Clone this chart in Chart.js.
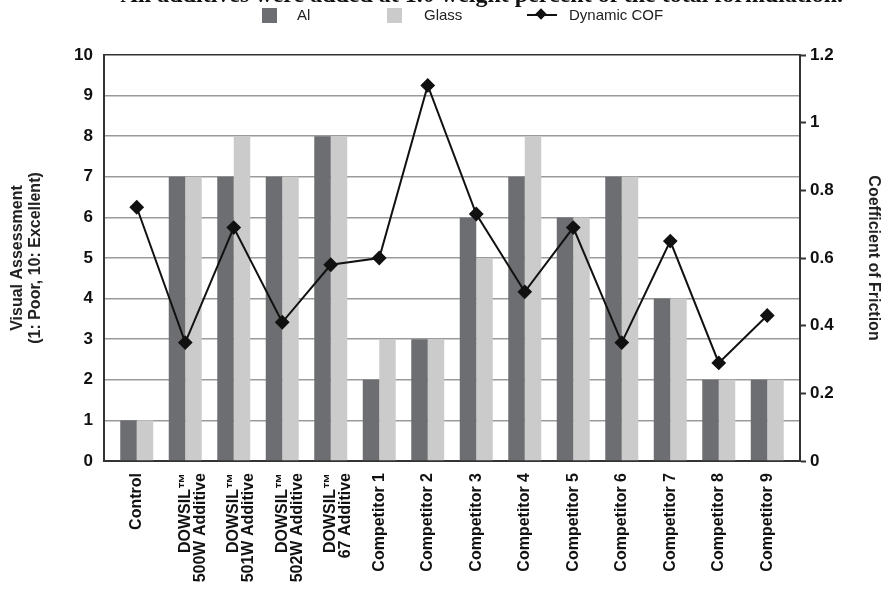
<!DOCTYPE html>
<html>
<head>
<meta charset="utf-8">
<script src="https://cdn.jsdelivr.net/npm/chart.js@4.4.1/dist/chart.umd.min.js"></script>
<style>
  html, body { margin: 0; padding: 0; background: #fff; overflow: hidden; }
  #wrap { position: relative; width: 883px; height: 597px; overflow: hidden; }
  #cut { position: absolute; right: 40px; top: -19px; white-space: nowrap;
         font: bold 24px "Liberation Serif", "DejaVu Serif", serif; color: #111; }
  #legend { position: absolute; top: 5px; left: 0; width: 883px; height: 20px;
            font: 15px "Liberation Sans Narrow", "Liberation Sans", Arial, sans-serif; color: #222; }
  #legend span { position: absolute; top: 0; line-height: 20px; }
  .sw { width: 15px; height: 15px; top: 3px !important; }
</style>
</head>
<body>
<div id="wrap">
  <div id="cut">All additives were added at 1.0 weight percent of the total formulation.</div>
  <div id="legend">
    <span class="sw" style="left:262px;background:#6d6e71"></span><span style="left:297px">Al</span>
    <span class="sw" style="left:387px;background:#cbcbcb"></span><span style="left:424px">Glass</span>
    <span style="left:527px;top:9px;width:30px;height:2px;background:#111"></span>
    <span style="left:537px;top:5px;width:8px;height:8px;background:#111;transform:rotate(45deg)"></span>
    <span style="left:569px">Dynamic COF</span>
  </div>
  <canvas id="chart" width="883" height="597"></canvas>
</div>
<script>
// categories
const categories = [
  'Control',
  ['DOWSIL\u2122', '500W Additive'],
  ['DOWSIL\u2122', '501W Additive'],
  ['DOWSIL\u2122', '502W Additive'],
  ['DOWSIL\u2122', '67 Additive'],
  'Competitor 1', 'Competitor 2', 'Competitor 3', 'Competitor 4', 'Competitor 5',
  'Competitor 6', 'Competitor 7', 'Competitor 8', 'Competitor 9'
];

// visual assessment scores
const alValues    = [1, 7, 7, 7, 8, 2, 3, 6, 7, 6, 7, 4, 2, 2];
const glassValues = [1, 7, 8, 7, 8, 3, 3, 5, 8, 6, 7, 4, 2, 2];

// dynamic coefficient of friction
const cofValues = [0.75, 0.35, 0.69, 0.41, 0.58, 0.60, 1.11, 0.73, 0.50, 0.69, 0.35, 0.65, 0.29, 0.43];

const FONT = '"Liberation Sans Narrow", "Liberation Sans", Arial, sans-serif';
const AXIS_COLOR = '#333';

// category scale with a bit of empty room at both ends
class PaddedCategory extends Chart.CategoryScale {
  buildTicks() {
    const ticks = super.buildTicks();
    const pad = this.options.edgePad || 0;
    this._startValue -= pad;
    this._valueRange += 2 * pad;
    return ticks;
  }
}
PaddedCategory.id = 'paddedCategory';
PaddedCategory.defaults = Chart.CategoryScale.defaults;
Chart.register(PaddedCategory);

new Chart(document.getElementById('chart'), {
  data: {
    labels: categories,
    datasets: [
      {
        type: 'line',
        label: 'Dynamic COF',
        data: cofValues,
        yAxisID: 'y1',
        borderColor: '#111',
        backgroundColor: '#111',
        borderWidth: 2,
        pointStyle: 'rectRot',
        pointRadius: 6,
        tension: 0,
        order: 0
      },
      {
        type: 'bar',
        label: 'Al',
        data: alValues,
        yAxisID: 'y',
        backgroundColor: '#6d6e71',
        order: 1
      },
      {
        type: 'bar',
        label: 'Glass',
        data: glassValues,
        yAxisID: 'y',
        backgroundColor: '#cbcbcb',
        order: 1
      }
    ]
  },
  options: {
    responsive: false,
    animation: false,
    layout: { padding: { top: 55, left: 0, right: 0, bottom: 0 } },
    datasets: {
      bar: { categoryPercentage: 0.68, barPercentage: 1.0 }
    },
    plugins: {
      legend: { display: false },
      tooltip: { enabled: false }
    },
    scales: {
      x: {
        type: 'paddedCategory',
        edgePad: 0.175,
        grid: { display: false, drawTicks: false },
        border: { display: true, color: AXIS_COLOR, width: 2 },
        ticks: {
          color: '#111',
          font: { family: FONT, size: 16, weight: 'bold', lineHeight: 0.95 },
          maxRotation: 90, minRotation: 90,
          padding: 12,
          autoSkip: false
        },
        afterFit: (scale) => { scale.height = 136; }
      },
      y: {
        position: 'left',
        min: 0, max: 10,
        ticks: {
          stepSize: 1,
          color: '#111',
          padding: 11,
          font: { family: FONT, size: 17, weight: 'bold' }
        },
        grid: {
          drawTicks: false,
          lineWidth: 1.5,
          color: (ctx) => (ctx.tick && ctx.tick.value === 10) ? AXIS_COLOR : '#9a9a9a'
        },
        border: { display: true, color: AXIS_COLOR, width: 2 },
        title: {
          display: true,
          text: ['Visual Assessment', '(1: Poor, 10: Excellent)'],
          color: '#222',
          font: { family: FONT, size: 16, weight: 'bold', lineHeight: 1.15 },
          padding: { top: 8, bottom: 0 }
        },
        afterFit: (scale) => { scale.width = 104; }
      },
      y1: {
        position: 'right',
        min: 0, max: 1.2,
        ticks: {
          stepSize: 0.2,
          color: '#111',
          padding: 4,
          font: { family: FONT, size: 17, weight: 'bold' },
          callback: (v) => String(Math.round(v * 10) / 10)
        },
        grid: {
          drawOnChartArea: false,
          drawTicks: true,
          tickLength: 6,
          tickWidth: 2,
          tickColor: AXIS_COLOR
        },
        border: { display: true, color: AXIS_COLOR, width: 2 },
        title: {
          display: true,
          text: 'Coefficient of Friction',
          color: '#222',
          font: { family: FONT, size: 16, weight: 'bold' },
          padding: { top: 0, bottom: 8 }
        },
        afterFit: (scale) => { scale.width = 83; }
      }
    }
  }
});
</script>
</body>
</html>
